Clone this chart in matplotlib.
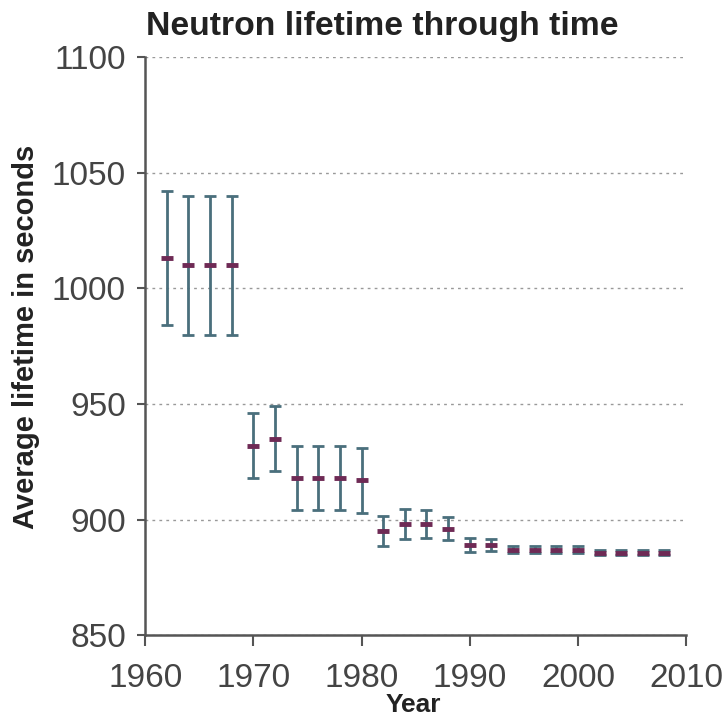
import matplotlib.pyplot as plt

years = [1962, 1964, 1966, 1968, 1970, 1972, 1974, 1976, 1978, 1980, 1982, 1984,
         1986, 1988, 1990, 1992, 1994, 1996, 1998, 2000, 2002, 2004, 2006, 2008]
lifetime = [1013, 1010, 1010, 1010, 932, 935, 918, 918, 918, 917, 895, 898,
            898, 896, 889, 889, 887, 887, 887, 887, 885.7, 885.7, 885.7, 885.7]
err = [29, 30, 30, 30, 14, 14, 14, 14, 14, 14, 6.5, 6.5,
       6, 5, 3, 2.5, 1.5, 1.5, 1.5, 1.5, 1, 1, 1, 1]

plt.rcParams['font.family'] = ['Liberation Sans', 'DejaVu Sans']

fig = plt.figure(figsize=(7.26, 7.21), dpi=100)
ax = fig.add_axes([0.2, 0.119, 0.745, 0.802])

ax.errorbar(years, lifetime, yerr=err, fmt='none', ecolor='#4a6f7c',
            elinewidth=2, capsize=4, capthick=2, zorder=2)
ax.plot(years, lifetime, linestyle='none', marker='_', markersize=8,
        markeredgewidth=3.5, color='#6e2a55', zorder=3)

ax.set_xlim(1960, 2010)
ax.set_ylim(850, 1100)
ax.set_xticks(range(1960, 2011, 10))
ax.set_yticks(range(850, 1101, 50))
ax.yaxis.grid(True, linestyle=(0, (2, 3)), color='#999999', linewidth=1)
ax.set_axisbelow(True)
for s in ['top', 'right']:
    ax.spines[s].set_visible(False)
for s in ['left', 'bottom']:
    ax.spines[s].set_color('#555555')
    ax.spines[s].set_linewidth(1.8)
ax.tick_params(axis='both', labelsize=24, colors='#555555', labelcolor='#444444',
               width=1.5)
ax.tick_params(axis='y', length=6, pad=8)
ax.tick_params(axis='x', length=8, pad=12)

# title and axis labels placed on the figure
fig.text(0.527, 0.9515, 'Neutron lifetime through time', fontsize=24.3,
         fontweight='bold', color='#222222', ha='center', va='baseline')
fig.text(0.570, 0.012, 'Year', fontsize=19, fontweight='bold',
         color='#222222', ha='center', va='baseline')
fig.text(0.036, 1 - 336.5 / 721, 'Average lifetime in seconds', fontsize=21,
         fontweight='bold', color='#222222', rotation=90, ha='center', va='center')

plt.savefig('out.png')
